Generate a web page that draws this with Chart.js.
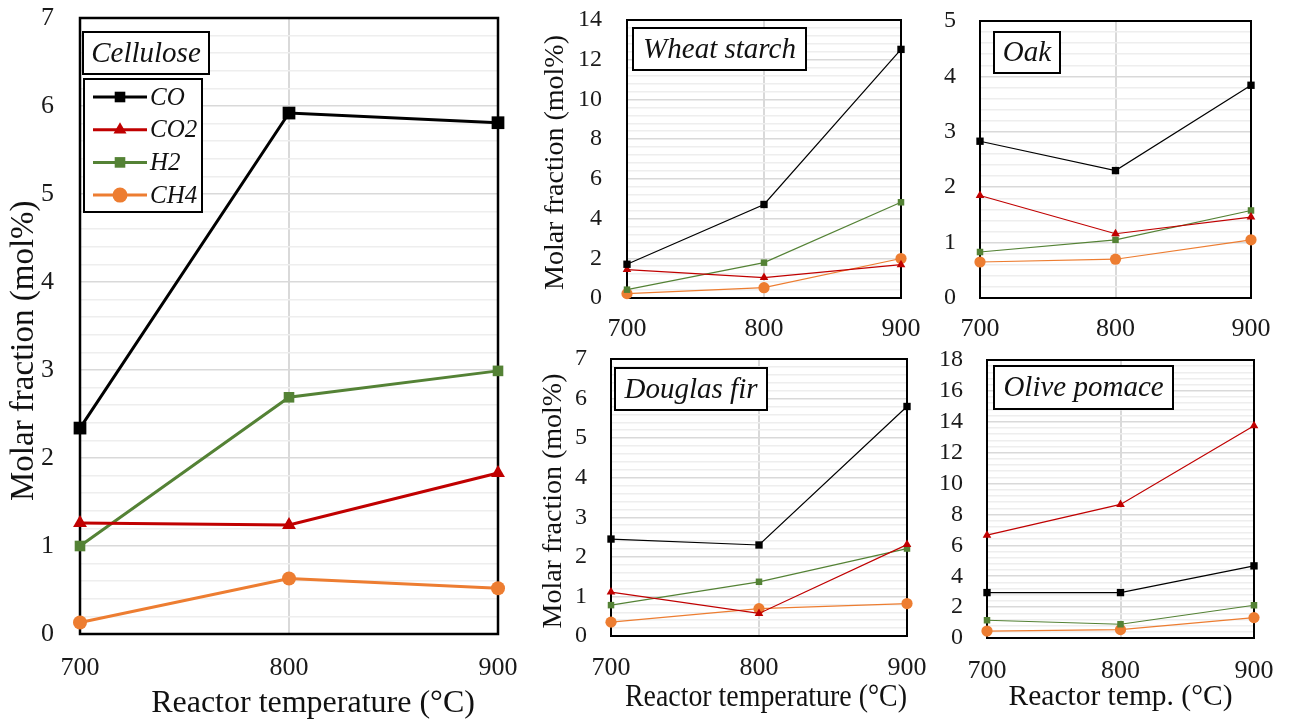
<!DOCTYPE html>
<html>
<head>
<meta charset="utf-8">
<script src="https://cdn.jsdelivr.net/npm/chart.js@4.4.0/dist/chart.umd.min.js"></script>
<style>
  html, body { margin: 0; padding: 0; background: #ffffff; width: 1290px; height: 724px; overflow: hidden; }
  canvas { position: absolute; }
</style>
</head>
<body>
<canvas id="cCellulose" width="530" height="724" style="left:0px;top:0px;width:530px;height:724px"></canvas>
<canvas id="cWheat" width="400" height="362" style="left:530px;top:0px;width:400px;height:362px"></canvas>
<canvas id="cOak" width="370" height="362" style="left:920px;top:0px;width:370px;height:362px"></canvas>
<canvas id="cDouglas" width="400" height="394" style="left:530px;top:330px;width:400px;height:394px"></canvas>
<canvas id="cOlive" width="370" height="394" style="left:920px;top:330px;width:370px;height:394px"></canvas>
<script>
// ---------------- DATA ----------------
const temps = [700, 800, 900];
const xTickLabels = ['700', '800', '900'];
const gasNames = ['CO', 'CO2', 'H2', 'CH4'];

const celluloseCO  = [2.34, 5.92, 5.81];
const celluloseCO2 = [1.26, 1.24, 1.83];
const celluloseH2  = [1.00, 2.69, 2.99];
const celluloseCH4 = [0.13, 0.63, 0.52];

const wheatCO  = [1.70, 4.71, 12.52];
const wheatCO2 = [1.43, 1.03, 1.68];
const wheatH2  = [0.42, 1.78, 4.82];
const wheatCH4 = [0.22, 0.52, 1.99];

const oakCO  = [2.83, 2.30, 3.84];
const oakCO2 = [1.85, 1.16, 1.46];
const oakH2  = [0.83, 1.05, 1.58];
const oakCH4 = [0.65, 0.70, 1.05];

const douglasCO  = [2.45, 2.30, 5.80];
const douglasCO2 = [1.11, 0.57, 2.31];
const douglasH2  = [0.78, 1.37, 2.21];
const douglasCH4 = [0.35, 0.69, 0.82];

const oliveCO  = [2.94, 2.94, 4.67];
const oliveCO2 = [6.66, 8.65, 13.74];
const oliveH2  = [1.15, 0.89, 2.12];
const oliveCH4 = [0.45, 0.54, 1.32];

// y axis ranges: [max, major step, minor step]
const celluloseY = [7, 1, 0.2];
const wheatY     = [14, 2, 0.4];
const oakY       = [5, 1, 0.2];
const douglasY   = [7, 1, 0.2];
const oliveY     = [18, 2, 0.4];

const yTitleText = 'Molar fraction (mol%)';
const xTitleText = 'Reactor temperature (°C)';
const xTitleShort = 'Reactor temp. (°C)';

// ---------------- STYLE ----------------
const FONT = "'Liberation Serif', 'Times New Roman', serif";
const gasColors = ['#000000', '#c00000', '#548235', '#ed7d31'];
const gasMarkers = ['rect', 'triangle', 'rect', 'circle'];
const bigRadius = [9, 8, 7.5, 7];
const smallRadius = [5.2, 5, 4.6, 5.6];

function isMajor(v, major) {
  return Math.abs(v / major - Math.round(v / major)) < 1e-6;
}

function makeDatasets(seriesList, big) {
  return seriesList.map((values, i) => ({
    label: gasNames[i],
    data: temps.map((t, k) => ({ x: t, y: values[k] })),
    borderColor: gasColors[i],
    backgroundColor: gasColors[i],
    pointBackgroundColor: gasColors[i],
    borderWidth: big ? 3 : 1.2,
    pointStyle: gasMarkers[i],
    pointRadius: big ? bigRadius[i] : smallRadius[i],
    pointHoverRadius: big ? bigRadius[i] : smallRadius[i],
    pointBorderWidth: 0,
    tension: 0,
    fill: false,
    clip: false
  }));
}

const panelPlugin = {
  id: 'panel',
  beforeDatasetsDraw(chart, args, opts) {
    const a = chart.chartArea, ctx = chart.ctx;
    ctx.save();
    ctx.strokeStyle = '#000';
    ctx.lineWidth = opts.frameWidth || 2;
    ctx.strokeRect(a.left, a.top, a.right - a.left, a.bottom - a.top);
    ctx.restore();
  },
  afterDatasetsDraw(chart, args, opts) {
    const a = chart.chartArea, ctx = chart.ctx;
    const b = opts.box;
    ctx.save();
    const bx = a.left + b.dx, by = a.top + b.dy;
    ctx.fillStyle = '#fff';
    ctx.fillRect(bx, by, b.w, b.h);
    ctx.strokeStyle = '#000';
    ctx.lineWidth = 2;
    ctx.strokeRect(bx, by, b.w, b.h);
    ctx.fillStyle = '#111';
    ctx.font = 'italic ' + b.size + 'px ' + FONT;
    ctx.textAlign = 'center';
    ctx.textBaseline = 'middle';
    ctx.fillText(opts.text, bx + b.w / 2, by + b.h / 2 + 1);
    if (opts.legend) {
      const L = opts.legend;
      const lx = a.left + L.dx, ly = a.top + L.dy;
      ctx.fillStyle = '#fff';
      ctx.fillRect(lx, ly, L.w, L.h);
      ctx.strokeRect(lx, ly, L.w, L.h);
      chart.data.datasets.forEach((d, i) => {
        const y = ly + L.row0 + i * L.rowGap;
        ctx.strokeStyle = d.borderColor;
        ctx.lineWidth = d.borderWidth;
        ctx.beginPath();
        ctx.moveTo(lx + L.lineX0, y);
        ctx.lineTo(lx + L.lineX1, y);
        ctx.stroke();
        ctx.fillStyle = d.borderColor;
        Chart.helpers.drawPoint(ctx, { pointStyle: d.pointStyle, radius: L.markerR, rotation: 0, borderWidth: 0 },
          lx + (L.lineX0 + L.lineX1) / 2, y);
        ctx.fillStyle = '#111';
        ctx.font = 'italic ' + L.size + 'px ' + FONT;
        ctx.textAlign = 'left';
        ctx.textBaseline = 'middle';
        ctx.fillText(d.label, lx + L.textX, y + 1);
      });
    }
    ctx.restore();
  }
};

function makeChart(id, cfg) {
  const [yMax, major, minor] = cfg.yRange;
  return new Chart(document.getElementById(id), {
    type: 'line',
    data: { datasets: makeDatasets(cfg.series, cfg.big) },
    plugins: [panelPlugin],
    options: {
      responsive: false,
      animation: false,
      events: [],
      layout: { padding: { top: cfg.padTop, right: cfg.padRight, left: 0, bottom: 0 } },
      plugins: {
        legend: { display: false },
        title: { display: false },
        tooltip: { enabled: false },
        panel: { text: cfg.name, box: cfg.box, legend: cfg.legend, frameWidth: cfg.big ? 2.5 : 2 }
      },
      scales: {
        x: {
          type: 'linear',
          min: temps[0],
          max: temps[temps.length - 1],
          ticks: {
            stepSize: 100,
            autoSkip: false,
            maxRotation: 0,
            padding: 0,
            color: '#1a1a1a',
            font: { family: FONT, size: cfg.xTickSize },
            callback: (v) => { const k = temps.indexOf(v); return k >= 0 ? xTickLabels[k] : ''; }
          },
          grid: {
            drawTicks: true,
            tickLength: cfg.xTickPad,
            tickColor: 'rgba(0,0,0,0)',
            color: (c) => (c.tick && c.tick.value === temps[1]) ? '#d9d9d9' : 'rgba(0,0,0,0)',
            lineWidth: 2
          },
          border: { display: false },
          title: cfg.xTitle ? {
            display: true, text: cfg.xTitle, color: '#111',
            font: { family: FONT, size: cfg.xTitleSize, lineHeight: 1 },
            padding: { top: 0, bottom: cfg.xTitlePad }
          } : { display: false },
          afterFit: (s) => { s.height = cfg.xH; }
        },
        y: {
          min: 0,
          max: yMax,
          ticks: {
            stepSize: minor,
            autoSkip: false,
            padding: 0,
            color: '#1a1a1a',
            font: { family: FONT, size: cfg.yTickSize },
            callback: (v) => isMajor(v, major) ? String(Math.round(v)) : ''
          },
          grid: {
            drawTicks: true,
            tickLength: cfg.yTickPad,
            tickColor: 'rgba(0,0,0,0)',
            color: (c) => (c.tick && isMajor(c.tick.value, major)) ? '#d9d9d9' : '#eeeeee',
            lineWidth: 1.5
          },
          border: { display: false },
          title: cfg.yTitle ? {
            display: true, text: cfg.yTitle, color: '#111',
            font: { family: FONT, size: cfg.yTitleSize, lineHeight: 1 },
            padding: { top: cfg.yTitlePad, bottom: 0 }
          } : { display: false },
          afterFit: (s) => { s.width = cfg.yW; }
        }
      }
    }
  });
}

makeChart('cCellulose', {
  name: 'Cellulose', big: true, yRange: celluloseY,
  series: [celluloseCO, celluloseCO2, celluloseH2, celluloseCH4],
  padTop: 18, padRight: 32, yW: 80, xH: 90,
  xTickPad: 19, xTickSize: 26, yTickPad: 26, yTickSize: 26,
  xTitle: '      ' + xTitleText, xTitleSize: 32, xTitlePad: 4,
  yTitle: yTitleText + '      ', yTitleSize: 33, yTitlePad: 8,
  box: { dx: 3, dy: 14, w: 126, h: 42, size: 29 },
  legend: { dx: 4, dy: 61, w: 118, h: 133, row0: 18, rowGap: 32.7, lineX0: 9, lineX1: 63, markerR: 7.5, textX: 66, size: 25 }
});

makeChart('cWheat', {
  name: 'Wheat starch', big: false, yRange: wheatY,
  series: [wheatCO, wheatCO2, wheatH2, wheatCH4],
  padTop: 20, padRight: 29, yW: 97, xH: 64,
  xTickPad: 16, xTickSize: 26, yTickPad: 25, yTickSize: 24,
  xTitle: null,
  yTitle: yTitleText + ' ', yTitleSize: 28, yTitlePad: 12,
  box: { dx: 6, dy: 8, w: 173, h: 42, size: 29 }
});

makeChart('cOak', {
  name: 'Oak', big: false, yRange: oakY,
  series: [oakCO, oakCO2, oakH2, oakCH4],
  padTop: 21, padRight: 39, yW: 60, xH: 64,
  xTickPad: 16, xTickSize: 26, yTickPad: 24, yTickSize: 24,
  xTitle: null, yTitle: null,
  box: { dx: 14, dy: 11, w: 66, h: 41, size: 29 }
});

makeChart('cDouglas', {
  name: 'Douglas fir', big: false, yRange: douglasY,
  series: [douglasCO, douglasCO2, douglasH2, douglasCH4],
  padTop: 29, padRight: 23, yW: 81, xH: 88,
  xTickPad: 17, xTickSize: 26, yTickPad: 24, yTickSize: 24,
  xTitle: '  ' + xTitleText, xTitleSize: 31, xTitlePad: 11,
  yTitle: yTitleText + ' ', yTitleSize: 28, yTitlePad: 10,
  box: { dx: 4, dy: 9, w: 152, h: 42, size: 29 }
});

makeChart('cOlive', {
  name: 'Olive pomace', big: false, yRange: oliveY,
  series: [oliveCO, oliveCO2, oliveH2, oliveCH4],
  padTop: 30, padRight: 36, yW: 67, xH: 86,
  xTickPad: 18, xTickSize: 26, yTickPad: 24, yTickSize: 24,
  xTitle: xTitleShort, xTitleSize: 29.5, xTitlePad: 12,
  yTitle: null,
  box: { dx: 7, dy: 6, w: 179, h: 43, size: 29 }
});
</script>
</body>
</html>
